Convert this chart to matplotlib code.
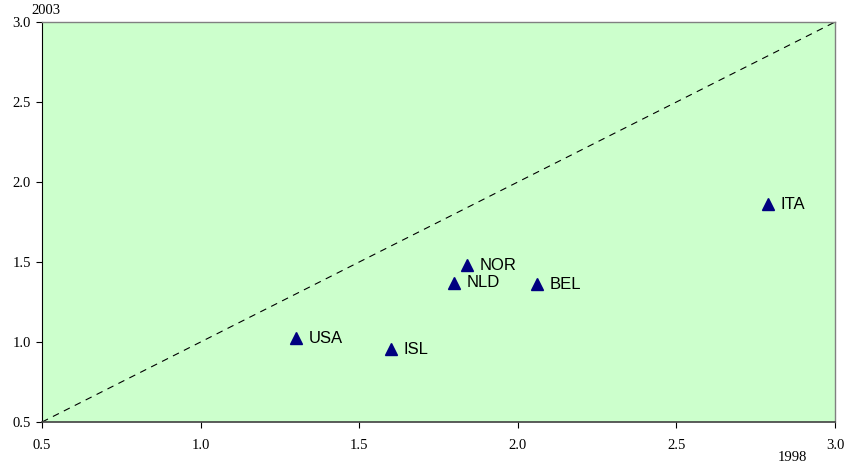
import matplotlib.pyplot as plt

# values
countries = ["USA", "ISL", "NLD", "NOR", "BEL", "ITA"]
x1998 = [1.30, 1.60, 1.80, 1.84, 2.06, 2.79]
y2003 = [1.025, 0.955, 1.37, 1.48, 1.36, 1.86]
ticks = [0.5, 1.0, 1.5, 2.0, 2.5, 3.0]

fig = plt.figure(figsize=(8.52, 4.66), dpi=100)
ax = fig.add_axes([0.0493, 0.0944, 0.9308, 0.8584])
ax.set_facecolor("#CCFFCC")

ax.plot([0.5, 3.0], [0.5, 3.0], color="black", linestyle=(0, (6, 5)), linewidth=0.8)
ax.plot(x1998, y2003, linestyle="none", marker="^", markersize=8,
        color="#000080", markeredgecolor="#000080")
for name, xv, yv in zip(countries, x1998, y2003):
    ax.annotate(name, (xv, yv), xytext=(9, 0), textcoords="offset points",
                va="center", ha="left", fontsize=12, family="Liberation Sans")

ax.set_xlim(0.5, 3.0)
ax.set_ylim(0.5, 3.0)
ax.set_xticks(ticks)
ax.set_yticks(ticks)
ax.set_xticklabels([f"{t:.1f}" for t in ticks], family="Liberation Serif", fontsize=10.5)
ax.set_yticklabels([f"{t:.1f}" for t in ticks], family="Liberation Serif", fontsize=10.5)
ax.tick_params(direction="out", length=4, width=0.8, colors="black")
ax.tick_params(axis="x", pad=8)
ax.tick_params(axis="y", pad=4)

for side in ["top", "right"]:
    ax.spines[side].set_color("#808080")
    ax.spines[side].set_linewidth(1.0)
ax.spines["left"].set_color("black")
ax.spines["bottom"].set_color("#404040")
ax.spines["bottom"].set_linewidth(1.2)

fig.text(0.054, 0.978, "2003", family="Liberation Serif", fontsize=10.5,
         ha="center", va="center")
fig.text(0.93, 0.019, "1998", family="Liberation Serif", fontsize=10.5,
         ha="center", va="center")

plt.savefig("out.png", dpi=100)
plt.close()
